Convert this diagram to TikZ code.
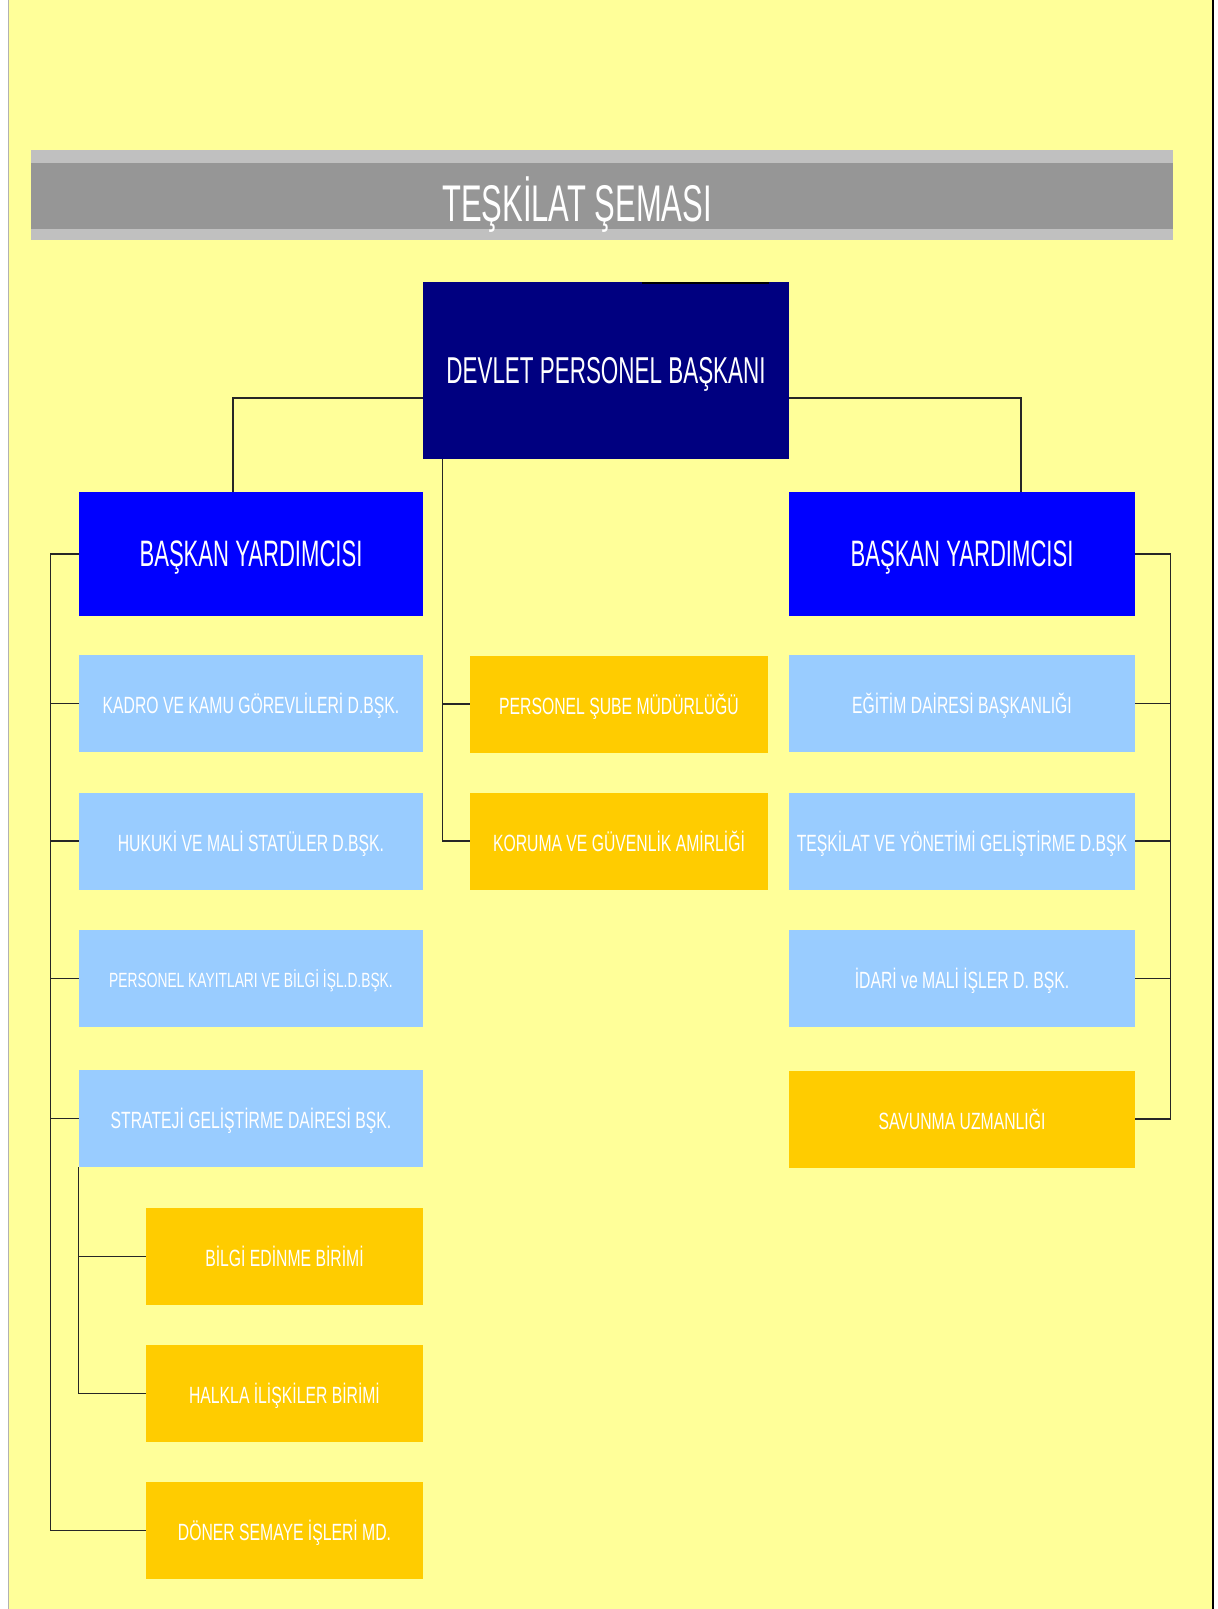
\documentclass[tikz,border=0pt]{standalone}
\usepackage{fontspec}
\usetikzlibrary{calc}
\newfontfamily\bigfont[FakeStretch=0.6]{Liberation Sans}
\newfontfamily\boxfont[FakeStretch=0.67]{Liberation Sans}
\definecolor{pageyellow}{HTML}{FFFF99}
\definecolor{bandlight}{HTML}{C0C0C0}
\definecolor{banddark}{HTML}{969696}
\definecolor{navyblue}{HTML}{000080}
\definecolor{vpblue}{HTML}{0000FF}
\definecolor{deptblue}{HTML}{99CCFF}
\definecolor{unitorange}{HTML}{FFCC00}
\tikzset{
	unit/.style={inner sep=0pt, text=white, align=center, text depth=0pt},
	boss/.style={unit, fill=navyblue, minimum width=183pt, minimum height=88.5pt, font=\bigfont\fontsize{18.7}{22}\selectfont},
	vice/.style={unit, fill=vpblue, minimum height=62pt, font=\bigfont\fontsize{18.4}{22}\selectfont},
	dept/.style={unit, fill=deptblue, minimum height=48.5pt, font=\boxfont\fontsize{11.75}{14}\selectfont},
	office/.style={unit, fill=unitorange, minimum height=48.5pt, font=\boxfont\fontsize{11.75}{14}\selectfont},
	link/.style={line width=0.8pt, draw=black!85}
}
\begin{document}
\begin{tikzpicture}[x=0.5pt, y=-0.5pt]
		\useasboundingbox (0,0) rectangle (1218,1609);
		\fill[white] (0,0) rectangle (1218,1609);
		\fill[pageyellow] (8,0) rectangle (1213,1609);
		\draw[gray!60] (8,0) -- (8,1609);
		\draw[black, line width=1pt] (1213,0) -- (1213,1609);
		
		% title band
		\fill[bandlight] (31,150) rectangle (1173,240);
		\fill[banddark] (31,163) rectangle (1173,229);
		\node[unit, font=\bigfont\fontsize{25.8}{30}\selectfont] (title) at (577,199) {TEŞKİLAT ŞEMASI};
		
		% top and vice presidents
		\node[boss] (boss) at (606,370.5) {DEVLET PERSONEL BAŞKANI};
		\draw[line width=1pt] ($(boss.north east)+(-147,1)$) -- ($(boss.north east)+(-20,1)$);
		\node[vice, minimum width=172pt] (vpl) at (251,554) {BAŞKAN YARDIMCISI};
		\node[vice, minimum width=173pt] (vpr) at (962,554) {BAŞKAN YARDIMCISI};
		
		% left column
		\node[dept, minimum width=172pt] (kadro) at (251,703.5) {KADRO VE KAMU GÖREVLİLERİ D.BŞK.};
		\node[dept, minimum width=172pt] (hukuk) at (251,841) {HUKUKİ VE MALİ STATÜLER D.BŞK.};
		\node[dept, minimum width=172pt, font=\boxfont\fontsize{10.3}{12}\selectfont] (kayit) at (251,978.5) {PERSONEL KAYITLARI VE BİLGİ İŞL.D.BŞK.};
		\node[dept, minimum width=172pt] (strateji) at (251,1118.5) {STRATEJİ GELİŞTİRME DAİRESİ BŞK.};
		\node[office, minimum width=138.5pt] (bilgi) at (284.5,1256.5) {BİLGİ EDİNME BİRİMİ};
		\node[office, minimum width=138.5pt] (halkla) at (284.5,1393.5) {HALKLA İLİŞKİLER BİRİMİ};
		\node[office, minimum width=138.5pt] (doner) at (284.5,1530.5) {DÖNER SEMAYE İŞLERİ MD.};
		
		% middle column
		\node[office, minimum width=149pt] (sube) at (619,704) {PERSONEL ŞUBE MÜDÜRLÜĞÜ};
		\node[office, minimum width=149pt] (koruma) at (619,841) {KORUMA VE GÜVENLİK AMİRLİĞİ};
		
		% right column
		\node[dept, minimum width=173pt] (egitim) at (962,703.5) {EĞİTİM DAİRESİ BAŞKANLIĞI};
		\node[dept, minimum width=173pt] (teskilat) at (962,841) {TEŞKİLAT VE YÖNETİMİ GELİŞTİRME D.BŞK};
		\node[dept, minimum width=173pt] (idari) at (962,978.5) {İDARİ ve MALİ İŞLER D. BŞK.};
		\node[office, minimum width=173pt] (savunma) at (962,1119) {SAVUNMA UZMANLIĞI};
		
		% connectors
		\coordinate (mbus) at ($(boss.south west)+(20,0)$);
		\coordinate (lbus) at ($(vpl.west)+(-28,0)$);
		\coordinate (rbus) at ($(vpr.east)+(35,0)$);
		\draw[link] ($(boss.west)+(0,27.5)$) -| ($(vpl.north)+(-18,0)$);
		\draw[link] ($(boss.east)+(0,27.5)$) -| ($(vpr.north)+(59,0)$);
		\draw[link] (mbus) |- (koruma.west);
		\draw[link] (sube.west) -- (sube.west -| mbus);
		\draw[link] (vpl.west) -- (lbus) |- (doner.west);
		\foreach \n in {kadro, hukuk, kayit, strateji}{
			\draw[link] (\n.west) -- (\n.west -| lbus);
		}
		\draw[link] (strateji.south west) |- (halkla.west);
		\draw[link] (bilgi.west) -- (bilgi.west -| strateji.south west);
		\draw[link] (vpr.east) -- (rbus) |- (savunma.east);
		\foreach \n in {egitim, teskilat, idari}{
			\draw[link] (\n.east) -- (\n.east -| rbus);
		}
	\end{tikzpicture}
\end{document}
